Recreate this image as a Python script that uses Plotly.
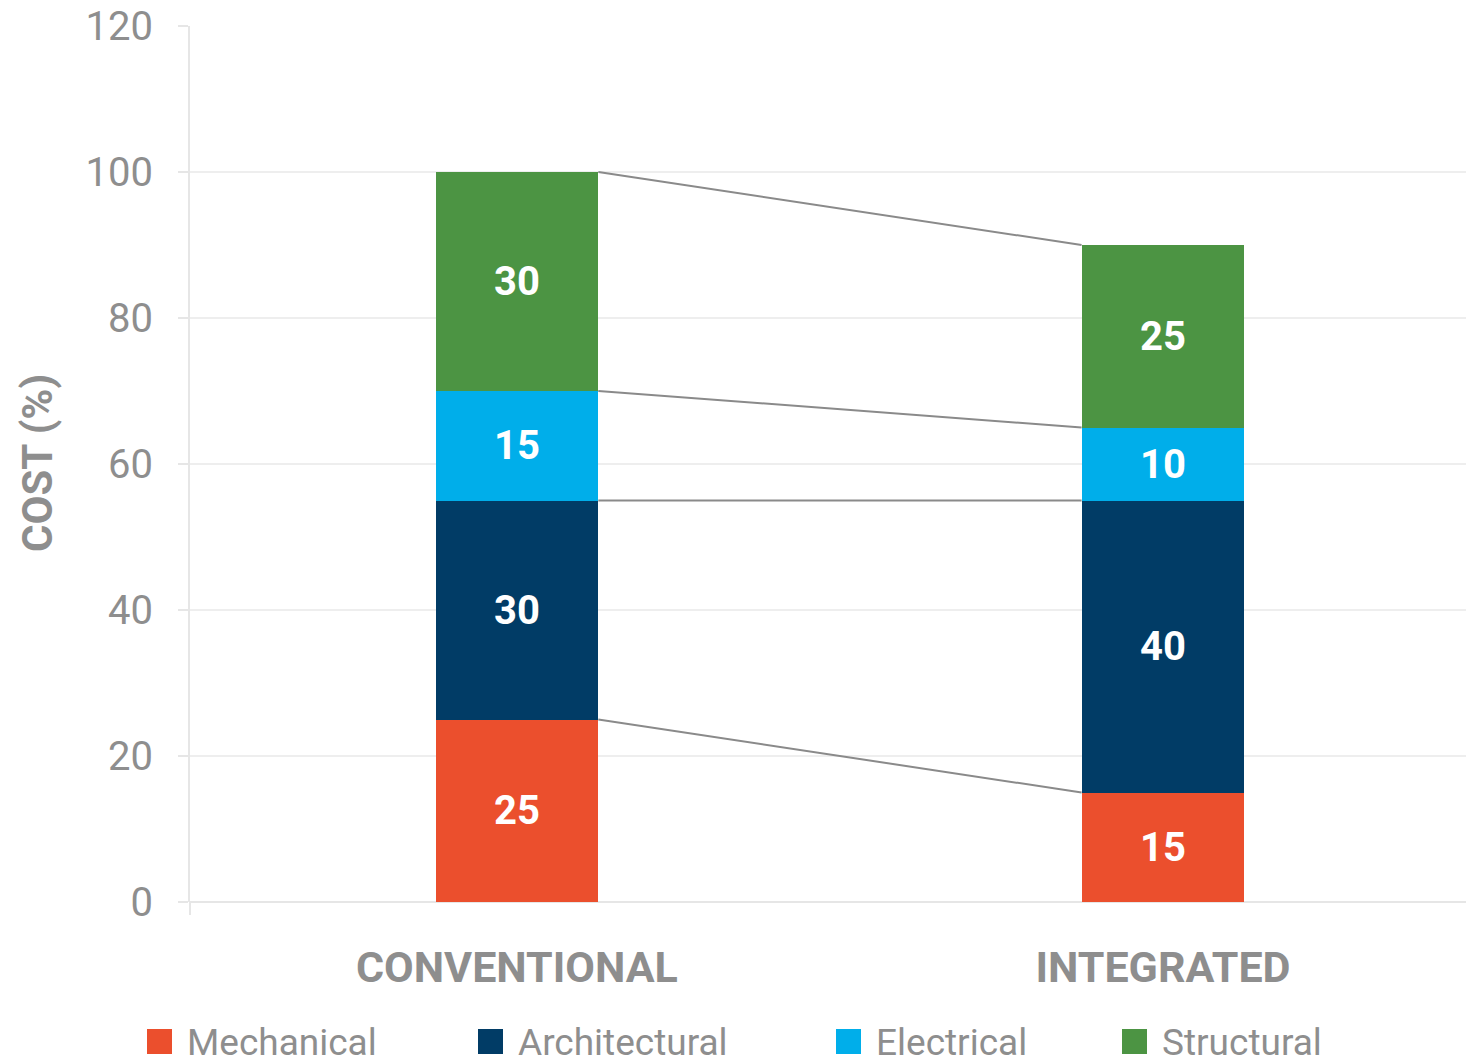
import plotly.graph_objects as go

# Cost breakdown (%) per design approach
approaches = ["CONVENTIONAL", "INTEGRATED"]
disciplines = ["Mechanical", "Architectural", "Electrical", "Structural"]
mechanical = [25, 15]
architectural = [30, 40]
electrical = [15, 10]
structural = [30, 25]
y_ticks = [0, 20, 40, 60, 80, 100, 120]

series = [mechanical, architectural, electrical, structural]
colors = ["#EB4F2D", "#013C66", "#00AEEA", "#4C9443"]

FONT = "Roboto"
GREY = "#8e8e8e"
W, H = 1466, 1063
L, R, T, B = 190, 0, 26, 161
BAR_W = 0.252
xpos = list(range(len(approaches)))

fig = go.Figure()

# stacked segments
for name, vals, col in zip(disciplines, series, colors):
    fig.add_trace(go.Bar(
        x=xpos, y=vals, name=name, width=BAR_W,
        marker=dict(color=col, line=dict(width=0)),
        text=vals, texttemplate="%{text}", textposition="inside",
        insidetextanchor="middle", textangle=0, constraintext="none",
        textfont=dict(family=FONT, size=40, color="white", weight="bold"),
        showlegend=False, hoverinfo="skip",
    ))

# connector lines between the tops of matching segments
cum = [0] * len(approaches)
for vals in series:
    cum = [c + v for c, v in zip(cum, vals)]
    fig.add_trace(go.Scatter(
        x=[xpos[0] + BAR_W / 2, xpos[1] - BAR_W / 2], y=cum,
        mode="lines", line=dict(color="#8a8a8a", width=2),
        showlegend=False, hoverinfo="skip",
    ))

pw, ph = W - L - R, H - T - B


def px_x(px):
    return (px - L) / pw


def px_y(py):
    return (H - B - py) / ph


# small downward stub of the value axis below the baseline
fig.add_shape(type="line", xref="paper", yref="paper",
              x0=0, x1=0, y0=0, y1=px_y(915),
              line=dict(color="#e6e6e6", width=2))

# legend drawn as swatches + labels along the bottom
legend_x = [147, 478, 836, 1122]
for name, col, lx in zip(disciplines, colors, legend_x):
    fig.add_shape(type="rect", xref="paper", yref="paper",
                  x0=px_x(lx), x1=px_x(lx + 25), y0=px_y(1029), y1=px_y(1054),
                  fillcolor=col, line=dict(width=0))
    fig.add_annotation(xref="paper", yref="paper", x=px_x(lx + 38), y=px_y(1042),
                       text=name, showarrow=False, xanchor="left", yanchor="middle",
                       font=dict(family=FONT, size=37, color=GREY))

# vertical axis title
fig.add_annotation(xref="paper", yref="paper", x=px_x(38), y=px_y(463),
                   text="COST (%)", showarrow=False, textangle=-90,
                   xanchor="center", yanchor="middle",
                   font=dict(family=FONT, size=42, color=GREY, weight="bold"))

fig.update_layout(
    width=W, height=H,
    margin=dict(l=L, r=R, t=T, b=B, pad=0),
    barmode="stack",
    plot_bgcolor="white", paper_bgcolor="white",
    showlegend=False,
    xaxis=dict(
        range=[-0.506, 1.469], tickvals=xpos, ticktext=approaches,
        showgrid=False, zeroline=False, showline=False, ticks="",
        ticklabelstandoff=36,
        tickfont=dict(family=FONT, size=43, color=GREY, weight="bold"),
    ),
    yaxis=dict(
        range=[0, 120], tickvals=y_ticks, showgrid=True, gridcolor="#eeeeee",
        gridwidth=2, zeroline=True, zerolinecolor="#e6e6e6", zerolinewidth=2,
        showline=True, linecolor="#e6e6e6", linewidth=2,
        ticks="outside", ticklen=10, tickcolor="#e6e6e6", tickwidth=2,
        ticklabelstandoff=17,
        tickfont=dict(family=FONT, size=40, color=GREY),
    ),
)

fig.write_html("out.html")
